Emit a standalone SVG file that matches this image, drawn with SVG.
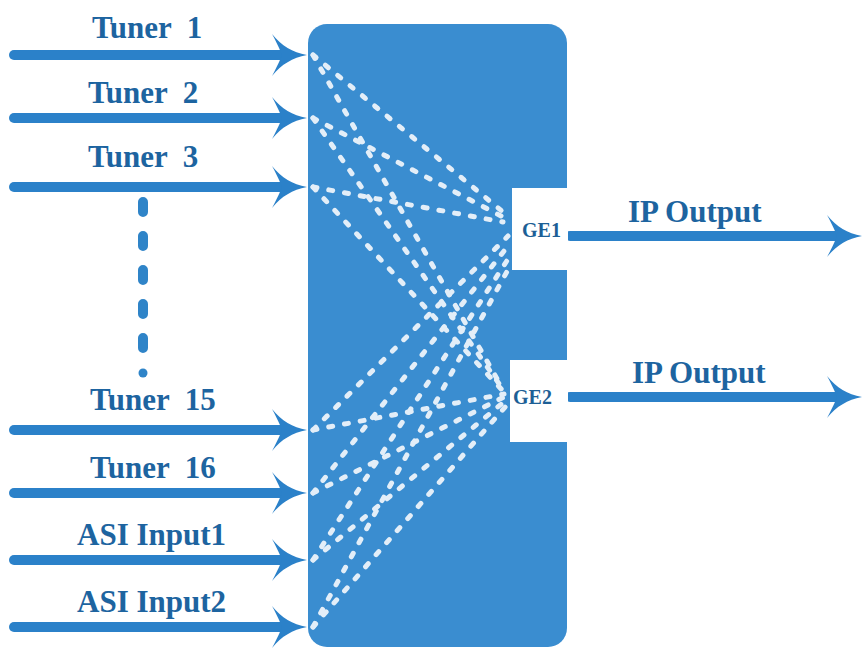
<svg xmlns="http://www.w3.org/2000/svg" width="863" height="649" viewBox="0 0 863 649">
<style>
.lbl{font-family:"Liberation Serif","Times New Roman",serif;font-weight:bold;font-size:31px;fill:#1d64a0;}
.ge{font-family:"Liberation Serif","Times New Roman",serif;font-weight:bold;font-size:20px;fill:#1d5f96;}
.shaft{stroke:#2b81c9;stroke-width:10;stroke-linecap:round;fill:none;}
.head{fill:#2b81c9;}
.dash{stroke:#e3eef8;stroke-width:5;stroke-dasharray:4 12;stroke-linecap:round;fill:none;}
</style>
<defs>
<path id="ah" d="M-35,-21 C-25,-9 -15,-3 0,0 C-15,3 -25,9 -35,21 C-29,10 -27,5 -25,0 C-27,-5 -29,-10 -35,-21 Z"/>
</defs>
<rect width="863" height="649" fill="#ffffff"/>

<g id="switch">
<rect x="308" y="24" width="259" height="623" rx="19" ry="19" fill="#3a8dd0"/>
</g>

<g id="connectors">
<g id="inputs">
<line class="shaft" x1="14" y1="55" x2="285" y2="55"/><use href="#ah" class="head" x="307" y="55"/>
<line class="shaft" x1="14" y1="118" x2="285" y2="118"/><use href="#ah" class="head" x="307" y="118"/>
<line class="shaft" x1="14" y1="187" x2="285" y2="187"/><use href="#ah" class="head" x="307" y="187"/>
<line class="shaft" x1="14" y1="430" x2="285" y2="430"/><use href="#ah" class="head" x="307" y="430"/>
<line class="shaft" x1="14" y1="493" x2="285" y2="493"/><use href="#ah" class="head" x="307" y="493"/>
<line class="shaft" x1="14" y1="560" x2="285" y2="560"/><use href="#ah" class="head" x="307" y="560"/>
<line class="shaft" x1="14" y1="627" x2="285" y2="627"/><use href="#ah" class="head" x="307" y="627"/>
</g>
<g id="dots">
<line x1="143" y1="202" x2="143" y2="350" stroke="#2f84c8" stroke-width="10" stroke-linecap="round" stroke-dasharray="10 24"/>
<circle cx="143" cy="373" r="4.5" fill="#2f84c8"/>
</g>
<g id="matrix">
<line class="dash" x1="313" y1="55" x2="503" y2="212"/>
<line class="dash" x1="313" y1="55" x2="500" y2="384"/>
<line class="dash" x1="313" y1="118" x2="503" y2="217"/>
<line class="dash" x1="313" y1="118" x2="502" y2="388"/>
<line class="dash" x1="313" y1="187" x2="503" y2="222"/>
<line class="dash" x1="313" y1="187" x2="504" y2="392"/>
<line class="dash" x1="313" y1="430" x2="508" y2="236"/>
<line class="dash" x1="313" y1="430" x2="504" y2="394"/>
<line class="dash" x1="313" y1="493" x2="508" y2="246"/>
<line class="dash" x1="313" y1="493" x2="504" y2="397"/>
<line class="dash" x1="313" y1="560" x2="510" y2="256"/>
<line class="dash" x1="313" y1="560" x2="505" y2="401"/>
<line class="dash" x1="313" y1="627" x2="510" y2="266"/>
<line class="dash" x1="313" y1="627" x2="506" y2="406"/>
</g>
<g id="outputs">
<line class="shaft" x1="570" y1="236" x2="840" y2="236" stroke-linecap="butt"/><use href="#ah" class="head" x="862" y="236"/>
<line class="shaft" x1="570" y1="397" x2="840" y2="397" stroke-linecap="butt"/><use href="#ah" class="head" x="862" y="397"/>
</g>
</g>

<g id="ge1">
<rect x="512" y="188" width="56" height="82" fill="#ffffff"/>
<text class="ge" x="522" y="237">GE1</text>
</g>
<g id="ge2">
<rect x="510" y="360" width="58" height="82" fill="#ffffff"/>
<text class="ge" x="513" y="404">GE2</text>
</g>

<g id="labels">
<text class="lbl" x="92" y="38" xml:space="preserve">Tuner  1</text>
<text class="lbl" x="88" y="103" xml:space="preserve">Tuner  2</text>
<text class="lbl" x="88" y="167" xml:space="preserve">Tuner  3</text>
<text class="lbl" x="90" y="410" xml:space="preserve">Tuner  15</text>
<text class="lbl" x="90" y="478" xml:space="preserve">Tuner  16</text>
<text class="lbl" x="77" y="545">ASI Input1</text>
<text class="lbl" x="77" y="612">ASI Input2</text>
<text class="lbl" x="628" y="222">IP Output</text>
<text class="lbl" x="632" y="383">IP Output</text>
</g>
</svg>
